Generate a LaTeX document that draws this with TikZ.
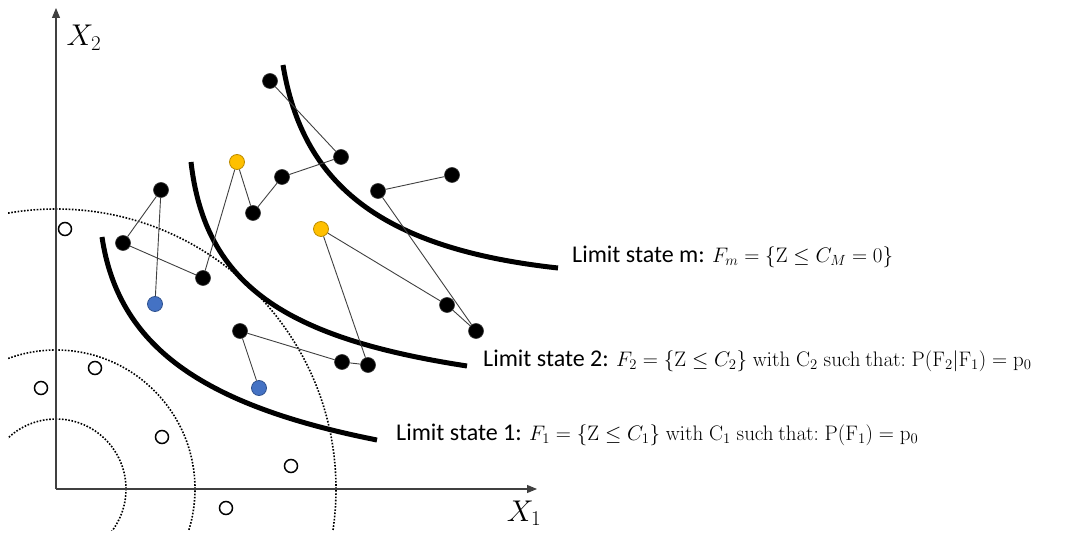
\RequirePackage{fix-cm}
\documentclass[tikz,border=0pt]{standalone}
\usepackage[no-math]{fontspec}
\setmainfont{Carlito}
\usetikzlibrary{arrows.meta}
\definecolor{dotblue}{HTML}{4472C4}
\definecolor{dotblueedge}{HTML}{2F528F}
\definecolor{dotyellow}{HTML}{FFC000}
\definecolor{dotyellowedge}{HTML}{BC8C00}
\definecolor{axisgray}{HTML}{404040}
\newcommand{\mth}[1]{{\fontsize{21}{25}\selectfont$#1$}}
\begin{document}
\begin{tikzpicture}[x=1pt,y=-1pt,
  bdot/.style={circle,fill=black,draw=black!80,line width=0.6pt,minimum size=15pt,inner sep=0pt},
  ydot/.style={circle,fill=dotyellow,draw=dotyellowedge,line width=0.8pt,minimum size=15pt,inner sep=0pt},
  bldot/.style={circle,fill=dotblue,draw=dotblueedge,line width=0.8pt,minimum size=15pt,inner sep=0pt},
  odot/.style={circle,fill=white,draw=black,line width=1.5pt,minimum size=13pt,inner sep=0pt},
  link/.style={draw=black!75,line width=0.9pt},
  limitcurve/.style={draw=black,line width=5pt},
  axisline/.style={draw=axisgray,line width=1.1pt,-{Triangle[length=10pt,width=8pt]}},
  radial/.style={draw=black,line width=1.6pt,dash pattern=on 1.6pt off 1.6pt},
  lbl/.style={anchor=west,inner sep=0pt,font=\fontsize{24}{28}\selectfont},
  axlbl/.style={inner sep=0pt,font=\fontsize{30}{36}\selectfont}
]
\useasboundingbox (0,0) rectangle (1083,534);

% origin and axes
\coordinate (O) at (56,489);
\coordinate (Xend) at (537,489);
\coordinate (Yend) at (56,8);

% dotted circles
\begin{scope}
  \clip (8,0) rectangle (1083,530);
  \draw[radial] (O) circle[radius=70pt];
  \draw[radial] (O) circle[radius=139pt];
  \draw[radial] (O) circle[radius=280pt];
\end{scope}

\draw[axisline] (O) -- (Yend);
\draw[axisline] (O) -- (Xend);
\node[axlbl] (x2) at (84,38) {$X_2$};
\node[axlbl] (x1) at (524,513) {$X_1$};

% limit state curves
\draw[limitcurve] (283,65) .. controls (302,180) and (375,248) .. (558,268);
\draw[limitcurve] (191,162) .. controls (205,285) and (285,338) .. (467,366);
\draw[limitcurve] (102,237) .. controls (118,345) and (200,405) .. (377,440);

% open samples
\node[odot] (o1) at (65,229) {};
\node[odot] (o2) at (95,368) {};
\node[odot] (o3) at (41,388) {};
\node[odot] (o4) at (162,437) {};
\node[odot] (o5) at (291,466) {};
\node[odot] (o6) at (226,508) {};

% chain samples
\node[bdot] (A) at (270,81) {};
\node[bdot] (B) at (341,157) {};
\node[bdot] (C) at (282,177) {};
\node[bdot] (D) at (253,213) {};
\node[ydot] (E) at (237,162) {};
\node[bdot] (F) at (378,191) {};
\node[bdot] (G) at (452,175) {};
\node[ydot] (H) at (321,229) {};
\node[bdot] (I) at (447,305) {};
\node[bdot] (J) at (476,331) {};
\node[bdot] (K) at (342,362) {};
\node[bdot] (L) at (368,365) {};
\node[bdot] (M) at (240,331) {};
\node[bldot] (N) at (259,388) {};
\node[bdot] (P1) at (161,190) {};
\node[bdot] (P2) at (123,243) {};
\node[bdot] (Q) at (203,278) {};
\node[bldot] (R) at (155,304) {};

\draw[link] (A) -- (B);
\draw[link] (B) -- (C);
\draw[link] (C) -- (D);
\draw[link] (D) -- (E);
\draw[link] (E) -- (Q);
\draw[link] (Q) -- (P2);
\draw[link] (P2) -- (P1);
\draw[link] (P1) -- (R);
\draw[link] (F) -- (G);
\draw[link] (F) -- (J);
\draw[link] (J) -- (I);
\draw[link] (I) -- (H);
\draw[link] (H) -- (L);
\draw[link] (L) -- (K);
\draw[link] (K) -- (M);
\draw[link] (M) -- (N);

% labels
\node[lbl] (lm) at (572,257) {Limit state m: \mth{F_m=\{\mathrm{Z}\le C_M=0\}}};
\node[lbl] (l2) at (483,361) {Limit state 2: \mth{F_2=\{\mathrm{Z}\le C_2\}\;\mathrm{with}\;\mathrm{C_2}\;\mathrm{such\ that{:}}\;\mathrm{P(F_2|F_1)}=\mathrm{p_0}}};
\node[lbl] (l1) at (396,435) {Limit state 1: \mth{F_1=\{\mathrm{Z}\le C_1\}\;\mathrm{with}\;\mathrm{C_1}\;\mathrm{such\ that{:}}\;\mathrm{P(F_1)}=\mathrm{p_0}}};
\end{tikzpicture}
\end{document}
